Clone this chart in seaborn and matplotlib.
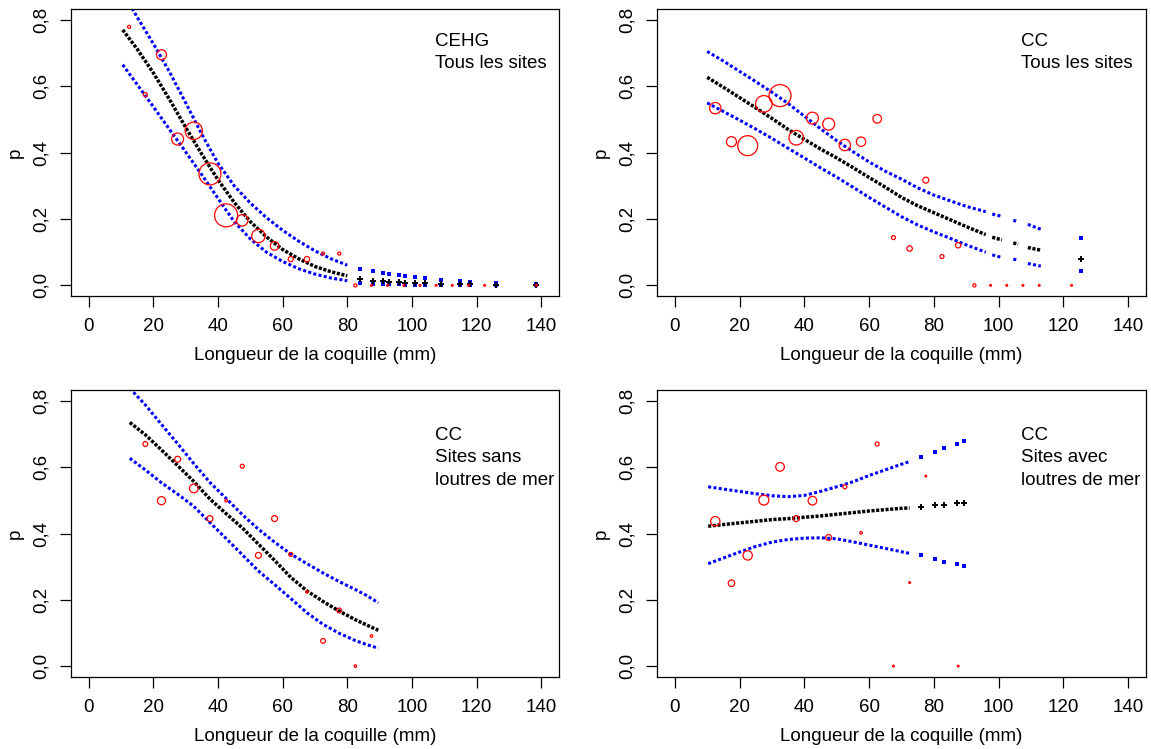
import numpy as np
import pandas as pd
import seaborn as sns
import matplotlib
matplotlib.use("Agg")
from matplotlib import pyplot as plt
from matplotlib import ticker

# ---- CEHG, tous les sites ----
cehg_cl_x = [12.5, 17.5, 22.5, 27.5, 32.5, 37.5, 42.5, 47.5, 52.5, 57.5, 62.5, 67.5,
             72.5, 77.5, 82.5, 87.5, 92.5, 97.5, 102.5, 107.5, 112.5, 117.5, 122.5, 138.5]
cehg_cl_p = [0.779, 0.575, 0.695, 0.441, 0.466, 0.336, 0.211, 0.196, 0.149, 0.119, 0.079, 0.079,
             0.096, 0.096, 0.0, 0.0, 0.0, 0.0, 0.0, 0.0, 0.0, 0.0, 0.0, 0.0]
cehg_cl_n = [3, 5, 31, 44, 93, 149, 163, 40, 55, 23, 8, 9, 3, 3, 3, 1, 1, 1, 1, 1, 1, 1, 1, 1]
cehg_x = [10.5, 15, 20, 25, 30, 35, 40, 45, 50, 55, 60, 65, 70, 75, 80]
cehg_seg = [1] * 15
cehg_fit = [0.770, 0.712, 0.640, 0.560, 0.476, 0.395, 0.318, 0.250, 0.192, 0.146, 0.108, 0.080,
            0.057, 0.041, 0.029]
cehg_hi = [0.885, 0.808, 0.728, 0.643, 0.550, 0.455, 0.368, 0.300, 0.248, 0.204, 0.166, 0.133,
           0.104, 0.080, 0.061]
cehg_lo = [0.665, 0.605, 0.538, 0.470, 0.402, 0.333, 0.262, 0.192, 0.140, 0.100, 0.072, 0.050,
           0.034, 0.022, 0.014]
cehg_qx = [84, 88, 91, 93, 96, 98, 101, 104, 109, 115, 118, 126, 138.5]
cehg_qfit = [0.019, 0.014, 0.012, 0.011, 0.009, 0.008, 0.007, 0.006, 0.004, 0.003, 0.003, 0.002, 0.001]
cehg_qhi = [0.050, 0.043, 0.037, 0.034, 0.030, 0.028, 0.025, 0.021, 0.017, 0.012, 0.011, 0.007, 0.004]
cehg_qlo = [0.007, 0.005, 0.004, 0.003, 0.003, 0.002, 0.002, 0.002, 0.001, 0.001, 0.001, 0.0, 0.0]

# ---- CC, tous les sites ----
cc_cl_x = [12.5, 17.5, 22.5, 27.5, 32.5, 37.5, 42.5, 47.5, 52.5, 57.5, 62.5, 67.5, 72.5,
           77.5, 82.5, 87.5, 92.5, 97.5, 102.5, 107.5, 112.5, 122.5]
cc_cl_p = [0.534, 0.433, 0.421, 0.547, 0.572, 0.445, 0.504, 0.486, 0.423, 0.433, 0.502, 0.144,
           0.111, 0.317, 0.087, 0.121, 0.0, 0.0, 0.0, 0.0, 0.0, 0.0]
cc_cl_n = [40, 31, 123, 85, 149, 66, 44, 44, 40, 27, 23, 5, 9, 11, 5, 9, 3, 1, 1, 1, 1, 1]
cc_x = [10, 15, 20, 25, 30, 35, 40, 45, 50, 55, 60, 65, 70, 75, 80, 85, 90, 96,
        98, 101, 104.5, 106, 109, 113]
cc_seg = [1] * 18 + [2, 2, 3, 3, 4, 4]
cc_fit = [0.627, 0.597, 0.566, 0.535, 0.503, 0.470, 0.440, 0.411, 0.384, 0.355, 0.325, 0.296,
          0.265, 0.240, 0.219, 0.198, 0.177, 0.153, 0.145, 0.137, 0.128, 0.124, 0.114, 0.106]
cc_hi = [0.705, 0.676, 0.645, 0.614, 0.582, 0.548, 0.510, 0.472, 0.436, 0.403, 0.372, 0.344,
         0.320, 0.294, 0.272, 0.255, 0.238, 0.222, 0.215, 0.208, 0.196, 0.192, 0.184, 0.169]
cc_lo = [0.550, 0.524, 0.498, 0.471, 0.443, 0.413, 0.384, 0.354, 0.326, 0.296, 0.265, 0.236,
         0.207, 0.182, 0.161, 0.142, 0.122, 0.100, 0.092, 0.084, 0.079, 0.076, 0.066, 0.058]
cc_qx = [125.3]
cc_qfit = [0.081]
cc_qhi = [0.144]
cc_qlo = [0.043]

# ---- CC, sites sans loutres de mer ----
sans_cl_x = [17.5, 22.5, 27.5, 32.5, 37.5, 42.5, 47.5, 52.5, 57.5, 62.5, 67.5, 72.5, 77.5, 82.5, 87.5]
sans_cl_p = [0.670, 0.499, 0.624, 0.536, 0.445, 0.499, 0.603, 0.334, 0.445, 0.337, 0.224, 0.076,
             0.168, 0.0, 0.091]
sans_cl_n = [7, 20, 11, 23, 11, 2, 5, 11, 11, 5, 2, 7, 7, 2, 2]
sans_x = [12.7, 17.5, 22.5, 27.5, 32.5, 37.5, 42.5, 47.5, 52.5, 57.5, 62.5, 67.5, 72.5, 77.5,
          82.5, 86, 89.6]
sans_seg = [1] * 17
sans_fit = [0.735, 0.698, 0.652, 0.605, 0.557, 0.504, 0.460, 0.417, 0.368, 0.319, 0.268, 0.227,
            0.195, 0.166, 0.140, 0.124, 0.108]
sans_hi = [0.838, 0.788, 0.729, 0.671, 0.611, 0.554, 0.506, 0.457, 0.413, 0.374, 0.338, 0.309,
           0.281, 0.255, 0.231, 0.213, 0.191]
sans_lo = [0.627, 0.592, 0.553, 0.519, 0.482, 0.433, 0.385, 0.336, 0.287, 0.246, 0.204, 0.161,
           0.126, 0.099, 0.077, 0.065, 0.054]
sans_qx, sans_qfit, sans_qhi, sans_qlo = [], [], [], []

# ---- CC, sites avec loutres de mer ----
avec_cl_x = [12.5, 17.5, 22.5, 27.5, 32.5, 37.5, 42.5, 47.5, 52.5, 57.5, 62.5, 67.5, 72.5, 77.5, 87.5]
avec_cl_p = [0.437, 0.250, 0.334, 0.501, 0.601, 0.445, 0.499, 0.388, 0.541, 0.402, 0.670, 0.0,
             0.252, 0.573, 0.0]
avec_cl_n = [27, 13, 27, 31, 23, 11, 23, 11, 5, 2, 5, 1, 1, 1, 1]
avec_x = [10.3, 15, 20, 25, 30, 35, 40, 45, 50, 55, 60, 65, 70, 72.5]
avec_seg = [1] * 14
avec_fit = [0.422, 0.427, 0.432, 0.437, 0.442, 0.445, 0.449, 0.453, 0.458, 0.463, 0.468, 0.472,
            0.476, 0.477]
avec_hi = [0.541, 0.534, 0.527, 0.520, 0.514, 0.511, 0.515, 0.527, 0.541, 0.556, 0.575, 0.592,
           0.609, 0.617]
avec_lo = [0.309, 0.326, 0.344, 0.361, 0.374, 0.382, 0.386, 0.387, 0.384, 0.375, 0.365, 0.355,
           0.345, 0.340]
avec_qx = [76, 80.4, 83, 87.1, 89.4]
avec_qfit = [0.480, 0.485, 0.485, 0.491, 0.491]
avec_qhi = [0.630, 0.645, 0.657, 0.670, 0.679]
avec_qlo = [0.334, 0.324, 0.314, 0.307, 0.301]

x_ticks = [0, 20, 40, 60, 80, 100, 120, 140]
y_ticks = [0.0, 0.2, 0.4, 0.6, 0.8]
x_label = "Longueur de la coquille (mm)"

sns.set_style("ticks", {"axes.edgecolor": "black", "text.color": "black",
                        "axes.labelcolor": "black", "xtick.color": "black",
                        "ytick.color": "black"})
plt.rcParams['font.family'] = ['Liberation Sans', 'DejaVu Sans']
plt.rcParams['font.size'] = 13.5

BLEU = "#0000ff"
ROUGE = "#ff0000"
N_MAX = 200


def panneau(ax, bx, bp, bn, cx, cseg, cfit, clo, chi, qx, qfit, qlo, qhi, texte, y_texte):
    courbes = pd.DataFrame({"x": cx, "seg": cseg, "fit": cfit, "lo": clo, "hi": chi})
    for col in ("lo", "hi"):
        sns.lineplot(data=courbes, x="x", y=col, units="seg", estimator=None, ax=ax,
                     color=BLEU, lw=2.2, linestyle=(0, (1.0, 0.75)))
    sns.lineplot(data=courbes, x="x", y="fit", units="seg", estimator=None, ax=ax,
                 color="black", lw=2.5, linestyle=(0, (0.9, 0.45)))
    if len(qx):
        ax.plot(qx, qlo, "s", color=BLEU, ms=2.4, mew=0)
        ax.plot(qx, qhi, "s", color=BLEU, ms=2.4, mew=0)
        ax.plot(qx, qfit, "+", color="black", ms=4.8, mew=1.4)

    classes = pd.DataFrame({"x": bx, "p": bp, "n": bn})
    sns.scatterplot(data=classes, x="x", y="p", size="n", sizes=(0, 1.68 * N_MAX),
                    size_norm=(0, N_MAX), facecolor="none", edgecolor=ROUGE,
                    linewidth=0.9, legend=False, ax=ax, zorder=3)

    ax.text(107, y_texte, texte, ha="left", va="top", fontsize=13.5, linespacing=1.4)

    ax.set_xlim(-5.6, 145.6)
    ax.set_ylim(-0.032, 0.832)
    ax.set_xticks(x_ticks)
    ax.set_yticks(y_ticks)
    ax.yaxis.set_major_formatter(ticker.FuncFormatter(lambda v, pos: f"{v:.1f}".replace(".", ",")))
    ax.tick_params(axis="both", direction="out", length=8, width=0.9, labelsize=13.5)
    ax.tick_params(axis="x", pad=8)
    ax.tick_params(axis="y", pad=7, labelrotation=90)
    for lab in ax.get_yticklabels():
        lab.set_va("center")
    for sp in ax.spines.values():
        sp.set_visible(True)
        sp.set_linewidth(0.9)
    ax.set_xlabel(x_label, fontsize=13.5)
    ax.set_ylabel("p", fontsize=13.5)
    ax.xaxis.set_label_coords(0.5, -0.178)
    ax.yaxis.set_label_coords(-0.095, 0.5)


fig = plt.figure(figsize=(11.51, 7.49), dpi=100)
ax1 = fig.add_axes([0.0614, 0.6048, 0.4245, 0.3828])
ax2 = fig.add_axes([0.5705, 0.6048, 0.4255, 0.3828])
ax3 = fig.add_axes([0.0614, 0.0965, 0.4245, 0.3824])
ax4 = fig.add_axes([0.5705, 0.0965, 0.4255, 0.3824])

panneau(ax1, cehg_cl_x, cehg_cl_p, cehg_cl_n, cehg_x, cehg_seg, cehg_fit, cehg_lo, cehg_hi,
        cehg_qx, cehg_qfit, cehg_qlo, cehg_qhi, "CEHG\nTous les sites", 0.761)
panneau(ax2, cc_cl_x, cc_cl_p, cc_cl_n, cc_x, cc_seg, cc_fit, cc_lo, cc_hi,
        cc_qx, cc_qfit, cc_qlo, cc_qhi, "CC\nTous les sites", 0.761)
panneau(ax3, sans_cl_x, sans_cl_p, sans_cl_n, sans_x, sans_seg, sans_fit, sans_lo, sans_hi,
        sans_qx, sans_qfit, sans_qlo, sans_qhi, "CC\nSites sans\nloutres de mer", 0.721)
panneau(ax4, avec_cl_x, avec_cl_p, avec_cl_n, avec_x, avec_seg, avec_fit, avec_lo, avec_hi,
        avec_qx, avec_qfit, avec_qlo, avec_qhi, "CC\nSites avec\nloutres de mer", 0.721)

fig.savefig("out.png", dpi=100)
